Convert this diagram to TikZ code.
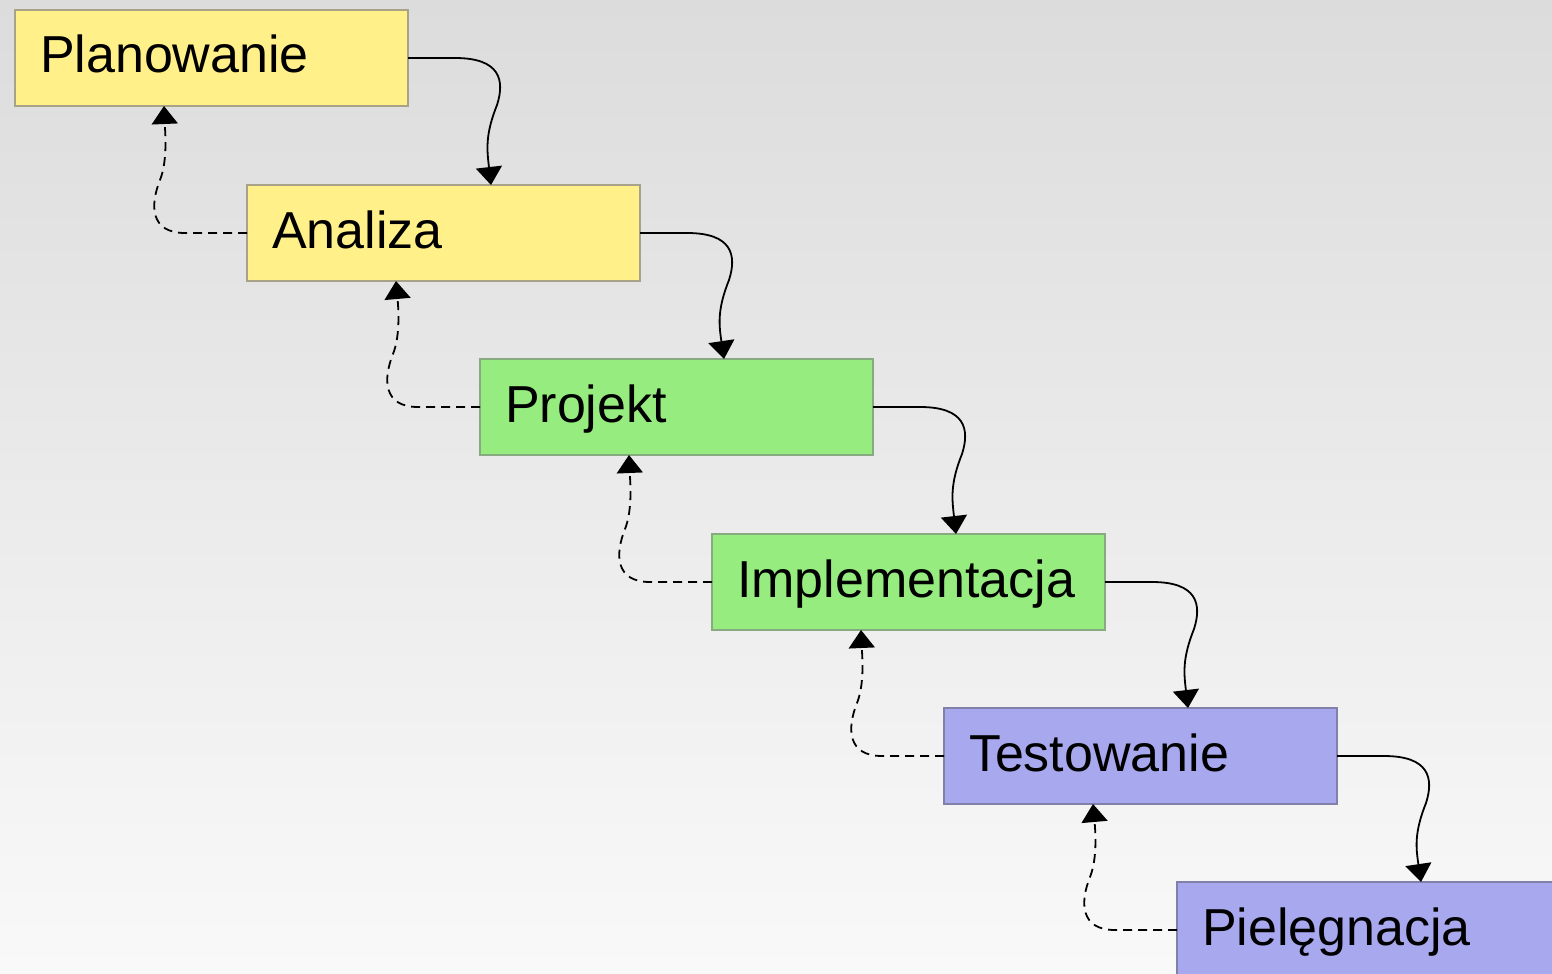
\documentclass[tikz,border=0pt]{standalone}
\usepackage{fontspec}
\setmainfont{Liberation Sans}
\usetikzlibrary{calc,arrows.meta}
\definecolor{bgtop}{HTML}{DCDCDC}
\definecolor{bgbot}{HTML}{F9F9F9}
\definecolor{yfill}{HTML}{FFF08A}
\definecolor{ydraw}{HTML}{A8A288}
\definecolor{gfill}{HTML}{97EC80}
\definecolor{gdraw}{HTML}{88AA80}
\definecolor{bfill}{HTML}{A8A8EE}
\definecolor{bdraw}{HTML}{8080A8}
\tikzset{
  stage/.style={rectangle, anchor=north west, minimum width=196.5pt, minimum height=48pt,
    inner xsep=12.5pt, inner ysep=0pt, outer sep=0pt, text width=171.5pt, align=left,
    line width=1.1pt, font=\fontsize{26}{30}\selectfont, text height=19pt, text depth=4pt},
  ystage/.style={stage, fill=yfill, draw=ydraw},
  gstage/.style={stage, fill=gfill, draw=gdraw},
  bstage/.style={stage, fill=bfill, draw=bdraw},
  fwd/.style={line width=0.9pt, -{Triangle[width=13pt,length=9pt]}},
  back/.style={line width=0.9pt, dash pattern=on 4.5pt off 3pt, -{Triangle[width=13pt,length=9pt]}}
}
\newcommand{\flowpair}[2]{%
  \draw[fwd] (#1.east) -- ($(#1.east)+(47,0)$)
    .. controls ($(#1.east)+(92,0)$) and ($(#1.east)+(97,22)$) .. ($(#1.east)+(89,47)$)
    .. controls ($(#1.east)+(77,77)$) and ($(#1.east)+(79,92)$) .. ($(#2.north west)+(244,0)$);
  \draw[back] (#2.west) -- ($(#2.west)+(-62,0)$)
    .. controls ($(#2.west)+(-97,0)$) and ($(#2.west)+(-97,-28)$) .. ($(#2.west)+(-87,-53)$)
    .. controls ($(#2.west)+(-79,-73)$) and ($(#2.west)+(-82,-103)$) .. ($(#1.south west)+(149,0)$);
}
\begin{document}
\begin{tikzpicture}[x=0.5pt, y=-0.5pt]
\useasboundingbox (0,0) rectangle (1552,974);
\clip (0,0) rectangle (1552,974);
\shade[top color=bgtop, bottom color=bgbot] (0,0) rectangle (1552,974);
\node[ystage] (s1) at (15,10) {Planowanie};
\node[ystage] (s2) at (247,185) {Analiza};
\node[gstage] (s3) at (480,359) {Projekt};
\node[gstage] (s4) at (712,534) {Implementacja};
\node[bstage] (s5) at (944,708) {Testowanie};
\node[bstage] (s6) at (1177,882) {Pielęgnacja};
\flowpair{s1}{s2}
\flowpair{s2}{s3}
\flowpair{s3}{s4}
\flowpair{s4}{s5}
\flowpair{s5}{s6}
\end{tikzpicture}
\end{document}
